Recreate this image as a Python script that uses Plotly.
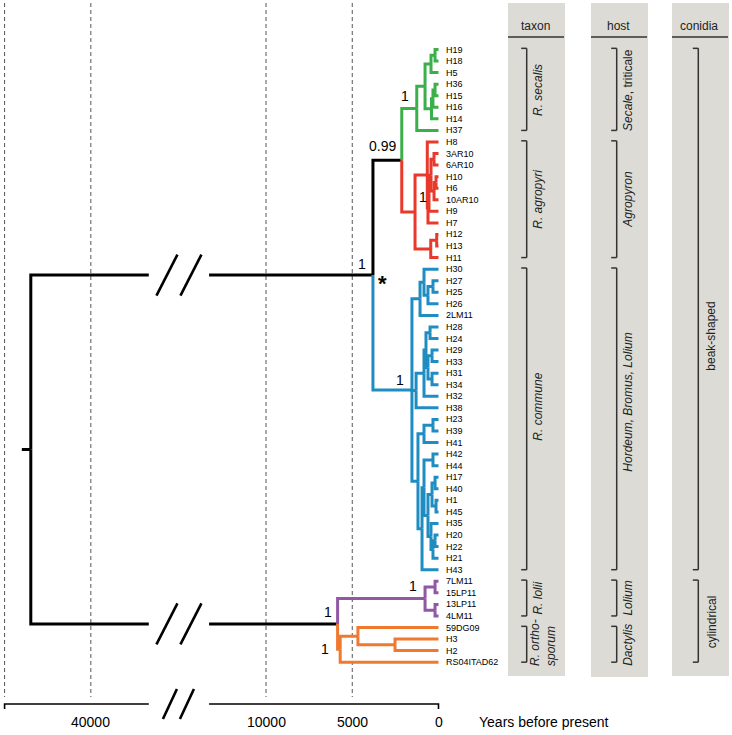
import plotly.graph_objects as go

# ---------------- data ----------------
TIP_LABELS = ["H19", "H18", "H5", "H36", "H15", "H16", "H14", "H37",
              "H8", "3AR10", "6AR10", "H10", "H6", "10AR10", "H9", "H7", "H12", "H13", "H11",
              "H30", "H27", "H25", "H26", "2LM11", "H28", "H24", "H29", "H33", "H31", "H34",
              "H32", "H38", "H23", "H39", "H41", "H42", "H44", "H17", "H40", "H1", "H45",
              "H35", "H20", "H22", "H21", "H43",
              "7LM11", "15LP11", "13LP11", "4LM11",
              "59DG09", "H3", "H2", "RS04ITAD62"]


def N(name, age, *kids):
    return {"name": name, "age": age, "kids": list(kids)}


# node ages in years before present
GREEN = N("GREEN", 1260,
          N(None, 780,
            N(None, 435, N(None, 200, "H19", "H18"), "H5"),
            N(None, 406, N(None, 320, N(None, 200, "H36", "H15"), "H16"), "H14")),
          "H37")
RED = N("RED", 1360,
        N(None, 650, "H8",
          N(None, 610,
            N(None, 550,
              N(None, 435, N(None, 260, "3AR10", "6AR10"),
                N(None, 260, N(None, 145, "H10", "H6"), "10AR10")),
              "H9"),
            "H7")),
        N(None, 450, N(None, 104, "H12", "H13"), "H11"))
BLUE_U1 = N(None, 1070, N(None, 840, "H30", N(None, 610, N(None, 320, "H27", "H25"), "H26")), "2LM11")
BLUE_U2 = N(None, 1300,
            N(None, 840,
              N(None, 725, N(None, 490, "H28", "H24"),
                N(None, 610, N(None, 375, "H29", "H33"), N(None, 375, "H31", "H34"))),
              "H32"),
            "H38")
BLUE_L = N(None, 1190,
           N(None, 840, N(None, 320, "H23", "H39"), "H41"),
           N(None, 955,
             N(None, 840, N(None, 320, "H42", "H44"),
               N(None, 610,
                 N(None, 375, N(None, 200, "H17", "H40"), N(None, 145, "H1", "H45")),
                 N(None, 435, "H35", N(None, 320, N(None, 200, "H20", "H22"), "H21")))),
             "H43"))
BLUE = N("BLUE", 1540, BLUE_U1, BLUE_U2, BLUE_L)
PURPLE = N("PURPLE", 780, N(None, 200, "7LM11", "15LP11"), N(None, 200, "13LP11", "4LM11"))
ORANGE = N("ORANGE", 5700, N(None, 4670, "59DG09", N(None, 2520, "H3", "H2")), "RS04ITAD62")
GR = N("GR", 2130, GREEN, RED)
STAR = N("STAR", 3800, GR, BLUE)
PO = N("PO", 5850, PURPLE, ORANGE)
ROOT = N("ROOT", 43480, STAR, PO)
ROOT_EDGE = 520

SUPPORT = {"GR": "0.99", "GREEN": "1", "RED": "1", "STAR": "1", "BLUE": "1",
           "PURPLE": "1", "PO": "1", "ORANGE": "1"}
STAR_NODE = "STAR"

TAXON_GROUPS = [("<i>R. secalis</i>", "H19", "H37"),
                ("<i>R. agropyri</i>", "H8", "H11"),
                ("<i>R. commune</i>", "H30", "H43"),
                ("<i>R. lolii</i>", "7LM11", "4LM11"),
                ("<i>R. ortho-<br>sporum</i>", "59DG09", "RS04ITAD62")]
HOST_GROUPS = [("<i>Secale</i>, triticale", "H19", "H37"),
               ("<i>Agropyron</i>", "H8", "H11"),
               ("<i>Hordeum, Bromus, Lolium</i>", "H30", "H43"),
               ("<i>Lolium</i>", "7LM11", "4LM11"),
               ("<i>Dactylis</i>", "59DG09", "RS04ITAD62")]
CONIDIA_GROUPS = [("beak-shaped", "H19", "H43"),
                  ("cylindrical", "7LM11", "RS04ITAD62")]
PANEL_TITLES = ["taxon", "host", "conidia"]

TICK_VALUES = [40000, 10000, 5000, 0]
TICK_LABELS = ["40000", "10000", "5000", "0"]
GRID_VALUES = [45000, 40000, 10000, 5000]
AXIS_START = 45000
BREAK_LO = 13300     # years: axis resumes here
BREAK_HI = 36640     # years: axis is cut here
AXIS_TITLE = "Years before present"

# ---------------- style / geometry ----------------
W, H = 732, 735
PX_PER_YEAR = 0.01725
X0_PX = 438.5
TIP0_PX = 49.5
TIP_STEP_PX = 11.56
BREAK_GAP_YEARS = 3495
BREAK_SHIFT = BREAK_HI - (BREAK_LO + BREAK_GAP_YEARS)

COLORS = {"ROOT": "#000000", "GREEN": "#3BAF4A", "RED": "#E8392C", "BLUE": "#1F8DC1",
          "PURPLE": "#9158A6", "ORANGE": "#EF792E"}
FONT = "Liberation Sans, Arial, Helvetica, sans-serif"
LABEL_OFFSETS = {"GR": (-4, 14, "right"), "GREEN": (-6, 12, "right"), "RED": (2, 15, "left"),
                 "STAR": (-5, 11, "right"), "BLUE": (-6, 10, "right"), "PURPLE": (-6, 13, "right"),
                 "PO": (-4, 12, "right"), "ORANGE": (-9, 0, "right")}
PANEL_BG = "#DCDBD6"
PANELS = [(508, 565, 3, 676), (591, 648, 3, 677), (672, 729, 3, 676)]
BRACKET_X = [526.7, 616.7, 698.3]
LABEL_X = [538, 628, 711.5]
LABEL_SHIFT = {"<i>R. commune</i>": -1.1, "<i>Hordeum, Bromus, Lolium</i>": -1.45, "beak-shaped": 2.3,
               "<i>R. ortho-<br>sporum</i>": 0.0}
LABEL_XSHIFT = {"<i>R. ortho-<br>sporum</i>": 5}


def xd(age):
    return -(age if age <= BREAK_LO else age - BREAK_SHIFT)


def xpx(px):
    return (px - X0_PX) / PX_PER_YEAR


def ypx(py):
    return (py - TIP0_PX) / TIP_STEP_PX


tip_index = {t: i for i, t in enumerate(TIP_LABELS)}
nodes = {}


def assign_y(n):
    if isinstance(n, str):
        return tip_index[n]
    ys = [assign_y(k) for k in n["kids"]]
    n["y"] = (ys[0] + ys[-1]) / 2
    if n["name"]:
        nodes[n["name"]] = n
    return n["y"]


assign_y(ROOT)

segments = {}


def add_pts(color, pts):
    segments.setdefault(color, ([], []))
    xs, ys = segments[color]
    for p in pts:
        xs.append(None if p is None else p[0])
        ys.append(None if p is None else p[1])
    xs.append(None)
    ys.append(None)


def draw(n, color):
    for k in n["kids"]:
        if isinstance(k, str):
            kc, kage, ky = color, 0, tip_index[k]
        else:
            kc = COLORS[k["name"]] if k["name"] in COLORS else color
            kage, ky = k["age"], k["y"]
        x0 = xd(n["age"])
        if n["age"] > BREAK_LO and kage < BREAK_LO:
            pts = [(x0, n["y"]), (x0, ky), (xd(BREAK_HI), ky), None, (xd(BREAK_LO), ky), (xd(kage), ky)]
        else:
            pts = [(x0, n["y"]), (x0, ky), (xd(kage), ky)]
        add_pts(kc, pts)
        if not isinstance(k, str):
            draw(k, kc)


draw(ROOT, COLORS["ROOT"])
add_pts(COLORS["ROOT"], [(xd(ROOT["age"] + ROOT_EDGE), ROOT["y"]), (xd(ROOT["age"]), ROOT["y"])])

fig = go.Figure()

for g in GRID_VALUES:
    fig.add_trace(go.Scatter(x=[xd(g), xd(g)], y=[ypx(3), ypx(697)], mode="lines",
                             line=dict(color="#555555", width=1, dash="4px,3px"), hoverinfo="skip"))

for color, (xs, ys) in segments.items():
    fig.add_trace(go.Scatter(x=xs, y=ys, mode="lines", line=dict(color=color, width=3),
                             hoverinfo="skip"))

gap_c = (xd(BREAK_HI) + xd(BREAK_LO)) / 2
slash_x, slash_y = [], []


def slash(yc, dx_px, w_px, h_px):
    cx = gap_c + dx_px / PX_PER_YEAR
    slash_x.extend([cx - w_px / 2 / PX_PER_YEAR, cx + w_px / 2 / PX_PER_YEAR, None])
    slash_y.extend([yc + h_px / 2 / TIP_STEP_PX, yc - h_px / 2 / TIP_STEP_PX, None])


for nm in ("STAR", "PO"):
    yb = nodes[nm]["y"]
    slash(yb, -12, 21, 41)
    slash(yb, 12, 21, 41)
AXIS_Y_PX = 704
slash(ypx(AXIS_Y_PX), -9, 14, 30)
slash(ypx(AXIS_Y_PX), 8, 14, 30)
fig.add_trace(go.Scatter(x=slash_x, y=slash_y, mode="lines", line=dict(color="black", width=2.6),
                         hoverinfo="skip"))

ay = ypx(AXIS_Y_PX)
tk = 5 / TIP_STEP_PX
fig.add_trace(go.Scatter(
    x=[xd(AXIS_START), xd(AXIS_START), xd(BREAK_HI), None, xd(BREAK_LO), xd(0), xd(0)],
    y=[ay + tk, ay, ay, None, ay, ay, ay + tk],
    mode="lines", line=dict(color="black", width=1.6), hoverinfo="skip"))

annotations = []
for v, t in zip(TICK_VALUES, TICK_LABELS):
    annotations.append(dict(x=xd(v), y=ypx(722), text=t, showarrow=False, xanchor="center",
                            yanchor="middle", font=dict(size=14, color="black", family=FONT)))
annotations.append(dict(x=xpx(477), y=ypx(722), text=AXIS_TITLE, showarrow=False, xanchor="left",
                        yanchor="middle", font=dict(size=14, color="black", family=FONT)))

for t in TIP_LABELS:
    annotations.append(dict(x=xd(0), y=tip_index[t], text=t, showarrow=False, xanchor="left",
                            yanchor="middle", xshift=5, font=dict(size=9, color="black", family=FONT)))

for nm, s in SUPPORT.items():
    n = nodes[nm]
    dx, dy, anc = LABEL_OFFSETS[nm]
    annotations.append(dict(x=xd(n["age"]), y=n["y"], text=s, showarrow=False, xanchor=anc,
                            yanchor="middle", xshift=dx, yshift=dy,
                            font=dict(size=14, color="black", family=FONT)))
sn = nodes[STAR_NODE]
annotations.append(dict(x=xd(sn["age"]), y=sn["y"], text="<b>*</b>", showarrow=False, xanchor="center",
                        yanchor="middle", xshift=10, yshift=-8, font=dict(size=22, color="black", family=FONT)))

shapes = []
for (x0, x1, y0, y1) in PANELS:
    shapes.append(dict(type="rect", xref="paper", yref="paper", x0=x0 / W, x1=x1 / W,
                       y0=1 - y1 / H, y1=1 - y0 / H, fillcolor=PANEL_BG, line=dict(width=0), layer="below"))
    shapes.append(dict(type="line", xref="paper", yref="paper", x0=x0 / W, x1=(x1 - 1) / W,
                       y0=1 - 37 / H, y1=1 - 37 / H, line=dict(color="#333333", width=1.5)))

for i, (title, (x0, x1, y0, y1)) in enumerate(zip(PANEL_TITLES, PANELS)):
    annotations.append(dict(xref="paper", yref="paper", x=(x0 + x1) / 2 / W - 1.5 / W, y=1 - 26 / H,
                            text=title, showarrow=False, xanchor="center", yanchor="middle",
                            font=dict(size=12, color="#222222", family=FONT)))

for i, groups in enumerate([TAXON_GROUPS, HOST_GROUPS, CONIDIA_GROUPS]):
    bx = BRACKET_X[i]
    for label, a, b in groups:
        ya, yb = tip_index[a], tip_index[b]
        shapes.append(dict(type="line", xref="paper", yref="y", x0=bx / W, x1=bx / W, y0=ya - 0.1, y1=yb,
                           line=dict(color="#333333", width=1.5)))
        for yy in (ya - 0.1, yb):
            shapes.append(dict(type="line", xref="paper", yref="y", x0=(bx - 5.5) / W, x1=bx / W, y0=yy, y1=yy,
                               line=dict(color="#333333", width=1.5)))
        yc = (ya + yb) / 2 + LABEL_SHIFT.get(label, 0)
        ann = dict(xref="paper", yref="y", x=(LABEL_X[i] + LABEL_XSHIFT.get(label, 0)) / W, y=yc,
                   text=label, showarrow=False, textangle=-90, xanchor="center", yanchor="middle",
                   font=dict(size=12, color="#222222", family=FONT))
        if "<br>" in label:
            ann["align"] = "left"
            ann["yanchor"] = "bottom"
            ann["y"] = ypx(668.5)
        annotations.append(ann)

fig.update_layout(
    width=W, height=H, margin=dict(l=0, r=0, t=0, b=0),
    paper_bgcolor="white", plot_bgcolor="white", showlegend=False,
    xaxis=dict(visible=False, range=[xpx(0), xpx(W)], fixedrange=True),
    yaxis=dict(visible=False, range=[ypx(H), ypx(0)], fixedrange=True),
    shapes=shapes, annotations=annotations,
)

fig.write_html("out.html", config={"displayModeBar": False, "staticPlot": True},
               post_script="document.body.style.margin='0px';")
